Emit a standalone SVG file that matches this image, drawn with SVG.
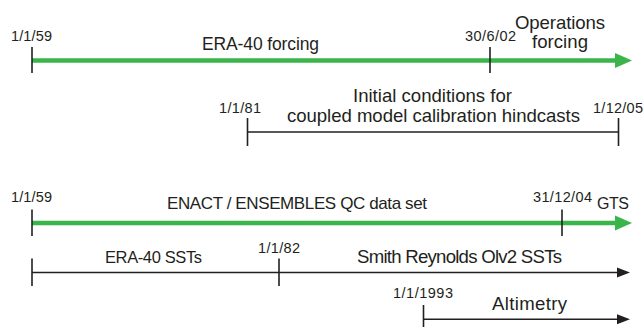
<svg xmlns="http://www.w3.org/2000/svg" width="644" height="327" viewBox="0 0 644 327">
<style>
text{font-family:"Liberation Sans",Arial,sans-serif;fill:#231f20}
.s{font-size:14.5px}
.b{font-size:18.6px}
.g{stroke:#39b54a;stroke-width:4.5;fill:none}
.k{stroke:#231f20;stroke-width:1.6;fill:none}
</style>
<defs>
<marker id="ga" markerUnits="userSpaceOnUse" viewBox="0 -8 17 16" markerWidth="17" markerHeight="16" refX="0" refY="0" orient="auto">
<path d="M0,-7.5 L17,0 L0,7.5 z" fill="#39b54a"/>
</marker>
<marker id="ka" markerUnits="userSpaceOnUse" viewBox="0 -6 13 12" markerWidth="13" markerHeight="12" refX="0" refY="0" orient="auto">
<path d="M0,-5 L13,0 L0,5 z" fill="#231f20"/>
</marker>
</defs>
<g id="connectors">
<line class="g" x1="32" y1="60.5" x2="615" y2="60.5" marker-end="url(#ga)"/>
<line class="k" x1="32" y1="47" x2="32" y2="73"/>
<line class="k" x1="490" y1="47" x2="490" y2="73"/>
<line class="k" x1="247.5" y1="132" x2="618.5" y2="132"/>
<line class="k" x1="247.5" y1="118" x2="247.5" y2="146"/>
<line class="k" x1="618.5" y1="118" x2="618.5" y2="146"/>
<line class="g" x1="32" y1="223" x2="615" y2="223" marker-end="url(#ga)"/>
<line class="k" x1="32" y1="209.5" x2="32" y2="236"/>
<line class="k" x1="562" y1="209.5" x2="562" y2="236"/>
<line class="k" x1="32" y1="272.5" x2="617" y2="272.5" marker-end="url(#ka)"/>
<line class="k" x1="32" y1="258.5" x2="32" y2="286"/>
<line class="k" x1="279" y1="258.5" x2="279" y2="286"/>
<line class="k" x1="423.5" y1="319.3" x2="617" y2="319.3" marker-end="url(#ka)"/>
<line class="k" x1="423.5" y1="305" x2="423.5" y2="327"/>
</g>
<g id="era40-forcing">
<text class="s" x="11" y="41" textLength="41">1/1/59</text>
<text class="b" x="202" y="50" textLength="117" style="font-size:17.5px">ERA-40 forcing</text>
</g>
<g id="operations-forcing">
<text class="s" x="465" y="41" textLength="51">30/6/02</text>
<text class="b" x="515" y="29" textLength="90">Operations</text>
<text class="b" x="532" y="48" textLength="56">forcing</text>
</g>
<g id="initial-conditions">
<text class="s" x="219" y="113" textLength="42">1/1/81</text>
<text class="b" x="353" y="101.5" textLength="159">Initial conditions for</text>
<text class="b" x="287" y="121.5" textLength="293">coupled model calibration hindcasts</text>
<text class="s" x="593" y="113" textLength="50">1/12/05</text>
</g>
<g id="enact">
<text class="s" x="11" y="201.5" textLength="41">1/1/59</text>
<text class="b" x="167" y="209" textLength="260" style="font-size:17px">ENACT / ENSEMBLES QC data set</text>
</g>
<g id="gts">
<text class="s" x="533" y="201.5" textLength="59">31/12/04</text>
<text class="b" x="597" y="209" textLength="32" style="font-size:16px">GTS</text>
</g>
<g id="era40-ssts">
<text class="b" x="105" y="262.5" textLength="97" style="font-size:16.5px">ERA-40 SSTs</text>
</g>
<g id="smith-reynolds">
<text class="s" x="258" y="252.5" textLength="42">1/1/82</text>
<text class="b" x="357" y="262.5" textLength="205">Smith Reynolds Olv2 SSTs</text>
</g>
<g id="altimetry">
<text class="s" x="393" y="298" textLength="60">1/1/1993</text>
<text class="b" x="492" y="310" textLength="75">Altimetry</text>
</g>
</svg>
